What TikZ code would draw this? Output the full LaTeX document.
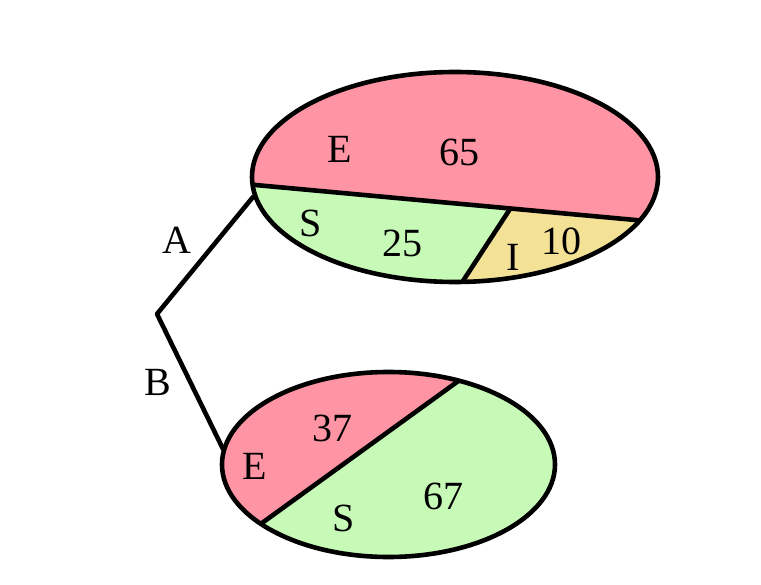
\documentclass[tikz,border=0pt]{standalone}
\usepackage{fontspec}
\setmainfont{Liberation Serif}
\definecolor{pinkE}{RGB}{255,149,164}
\definecolor{greenS}{RGB}{199,249,183}
\definecolor{yellowI}{RGB}{243,225,150}
\begin{document}
\begin{tikzpicture}[x=1pt,y=-1pt,
  lbl/.style={font=\fontsize{40}{42}\selectfont, inner sep=0pt, text=black},
  edge/.style={line width=4.6pt, black, line join=round, line cap=round}]
\useasboundingbox (0,0) rectangle (761,585);
% ---------- top ellipse ----------
\begin{scope}
  \clip (455,177) ellipse [x radius=203, y radius=105];
  \fill[yellowI] (200,0) rectangle (720,330);
  \fill[pinkE] (200,179.9) -- (720,227.8) -- (720,0) -- (200,0) -- cycle;
  \fill[greenS] (200,179.9) -- (510,209) -- (437.5,320) -- (200,320) -- cycle;
  \draw[edge] (200,179.9) -- (720,227.8);
  \draw[edge] (510,209) -- (437.5,320);
\end{scope}
\draw[edge] (455,177) ellipse [x radius=203, y radius=105];
% ---------- bottom ellipse ----------
\begin{scope}
  \clip (388.5,464.5) ellipse [x radius=166.5, y radius=92.5];
  \fill[greenS] (200,350) rectangle (580,580);
  \fill[pinkE] (554.5,311.5) -- (164.5,593.5) -- (100,300) -- cycle;
  \draw[edge] (554.5,311.5) -- (164.5,593.5);
\end{scope}
\draw[edge] (388.5,464.5) ellipse [x radius=166.5, y radius=92.5];
% ---------- connector ----------
\coordinate (topL) at (253,197);
\coordinate (bend) at (157,314);
\coordinate (botL) at (223,449);
\draw[edge] (topL) -- (bend) -- (botL);
% ---------- labels ----------
\node[lbl] (lA) at (177,240) {A};
\node[lbl] (lB) at (158,382) {B};
\node[lbl] (tE) at (340,149) {E};
\node[lbl] (t65) at (459,152) {65};
\node[lbl] (tS) at (311,223) {S};
\node[lbl] (t25) at (402,243) {25};
\node[lbl] (tI) at (513,257) {I};
\node[lbl] (t10) at (561,241) {10};
\node[lbl] (b37) at (332,428) {37};
\node[lbl] (bE) at (255,466) {E};
\node[lbl] (bS) at (344,518) {S};
\node[lbl] (b67) at (443,496) {67};
\end{tikzpicture}
\end{document}
